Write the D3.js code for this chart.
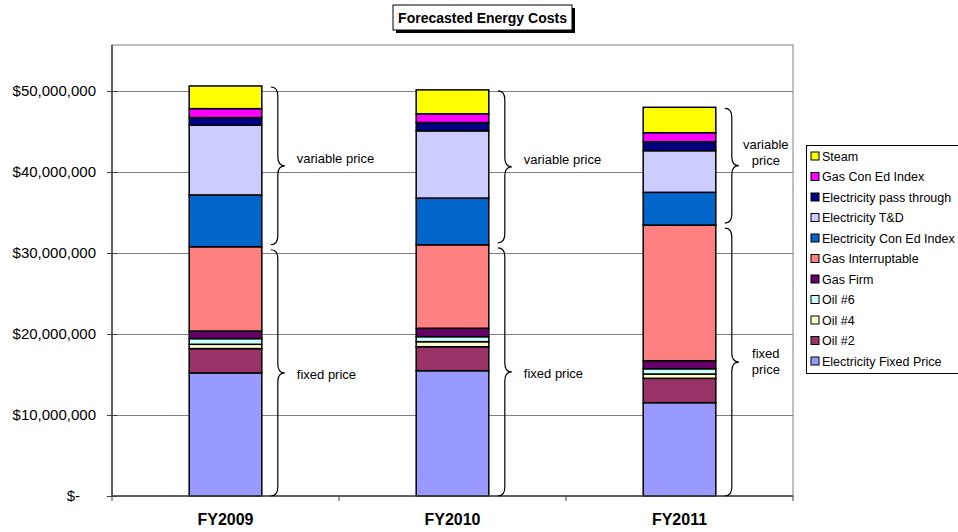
<!DOCTYPE html>
<html>
<head>
<meta charset="utf-8">
<script src="https://cdn.jsdelivr.net/npm/d3@7"></script>
<style>
  html, body { margin: 0; padding: 0; background: #fff; }
  svg { display: block; font-family: "Liberation Sans", Arial, sans-serif; }
</style>
</head>
<body>
<svg id="chart" width="958" height="532"></svg>
<script>
// ---------- data ----------
const categories = ["FY2009", "FY2010", "FY2011"];
// series listed bottom-to-top of each stack
const seriesNames = [
  "Electricity Fixed Price", "Oil #2", "Oil #4", "Oil #6", "Gas Firm",
  "Gas Interruptable", "Electricity Con Ed Index", "Electricity T&D",
  "Electricity pass through", "Gas Con Ed Index", "Steam"
];
const electricityFixedPrice = [15200000, 15470000, 11520000];
const oil2                  = [3000000, 2960000, 3010000];
const oil4                  = [530000, 620000, 530000];
const oil6                  = [700000, 620000, 650000];
const gasFirm               = [940000, 1040000, 990000];
const gasInterruptable      = [10400000, 10300000, 16750000];
const electricityConEdIndex = [6400000, 5770000, 4040000];
const electricityTD         = [8600000, 8300000, 5140000];
const electricityPassThrough= [950000, 1030000, 1110000];
const gasConEdIndex         = [1100000, 1070000, 1110000];
const steam                 = [2800000, 2960000, 3140000];
const seriesValues = [electricityFixedPrice, oil2, oil4, oil6, gasFirm, gasInterruptable,
  electricityConEdIndex, electricityTD, electricityPassThrough, gasConEdIndex, steam];
const seriesColors = ["#9999FF", "#993366", "#FFFFCC", "#CCFFFF", "#660066", "#FF8080",
  "#0066CC", "#CCCCFF", "#000080", "#FF00FF", "#FFFF00"];
const yTicks = [0, 10000000, 20000000, 30000000, 40000000, 50000000];
const fixedCount = 6; // first six series are "fixed price"
const variableLabels = [["variable price"], ["variable price"], ["variable", "price"]];
const fixedLabels = [["fixed price"], ["fixed price"], ["fixed", "price"]];
const titleText = "Forecasted Energy Costs";

// ---------- layout ----------
const plot = { left: 112, right: 793, top: 45, bottom: 496 };
const svg = d3.select("#chart");

const x = d3.scaleBand().domain(categories).range([plot.left, plot.right]).paddingInner(0.68).paddingOuter(0.34);
const y = d3.scaleLinear().domain([0, 50000000]).range([plot.bottom, 91]);

const rows = categories.map((c, i) => {
  const r = { cat: c };
  seriesNames.forEach((s, k) => r[s] = seriesValues[k][i]);
  return r;
});
const stacked = d3.stack().keys(seriesNames)(rows);

// plot frame
svg.append("rect").attr("x", plot.left).attr("y", plot.top)
  .attr("width", plot.right - plot.left).attr("height", plot.bottom - plot.top)
  .attr("fill", "#fff").attr("stroke", "#808080").attr("stroke-width", 1);

// gridlines
svg.append("g").selectAll("line").data(yTicks.filter(d => d > 0)).join("line")
  .attr("x1", plot.left).attr("x2", plot.right)
  .attr("y1", d => Math.round(y(d)) + 0.5).attr("y2", d => Math.round(y(d)) + 0.5)
  .attr("stroke", "#808080").attr("stroke-width", 1);

// bars
svg.append("g").selectAll("g").data(stacked).join("g")
  .attr("fill", (d, i) => seriesColors[i])
  .selectAll("rect").data(d => d).join("rect")
  .attr("x", d => x(d.data.cat))
  .attr("width", x.bandwidth())
  .attr("y", d => y(d[1]))
  .attr("height", d => y(d[0]) - y(d[1]))
  .attr("stroke", "#000").attr("stroke-width", 1.5);

// y axis
const yAxis = svg.append("g").attr("transform", `translate(${plot.left},0)`)
  .call(d3.axisLeft(y).tickValues(yTicks).tickSize(5).tickPadding(11)
    .tickFormat(d => d === 0 ? "$-" : d3.format("$,")(d)));
yAxis.select(".domain").attr("stroke", "#404040").attr("stroke-width", 1.5)
  .attr("d", `M0,${plot.top}V${plot.bottom}`);
yAxis.selectAll(".tick line").attr("stroke", "#404040").attr("x1", 5).attr("x2", -5);
yAxis.selectAll(".tick text").attr("font-size", 15).attr("fill", "#000")
  .attr("font-family", "Liberation Sans, Arial, sans-serif")
  .attr("dx", d => d === 0 ? -16 : 0);

// x axis
const xAxis = svg.append("g").attr("transform", `translate(0,${plot.bottom})`);
xAxis.append("line").attr("x1", plot.left).attr("x2", plot.right)
  .attr("stroke", "#404040").attr("stroke-width", 1.5);
const boundaries = [plot.left].concat(categories.map(c => x(c) + x.bandwidth() / 2 + x.step() / 2));
xAxis.selectAll("line.tk").data(boundaries).join("line").attr("class", "tk")
  .attr("x1", d => d).attr("x2", d => d).attr("y1", 0).attr("y2", 5)
  .attr("stroke", "#404040").attr("stroke-width", 1);
xAxis.selectAll("text").data(categories).join("text")
  .attr("x", d => x(d) + x.bandwidth() / 2).attr("y", 29)
  .attr("text-anchor", "middle").attr("font-weight", "bold").attr("font-size", 16)
  .text(d => d);

// braces
function bracePath(x0, y0, y1, w) {
  const m = (y0 + y1) / 2, r = Math.min(9, (y1 - y0) / 6), h = w / 2;
  return `M${x0},${y0} Q${x0 + h},${y0} ${x0 + h},${y0 + r} L${x0 + h},${m - r} ` +
    `Q${x0 + h},${m} ${x0 + w},${m} Q${x0 + h},${m} ${x0 + h},${m + r} ` +
    `L${x0 + h},${y1 - r} Q${x0 + h},${y1} ${x0},${y1}`;
}
const braceG = svg.append("g");
categories.forEach((c, i) => {
  const bx = x(c) + x.bandwidth() + 9;
  const bw = 14;
  const boundary = stacked[fixedCount - 1][i][1];
  const top = stacked[seriesNames.length - 1][i][1];
  const groups = [
    { y0: y(top) + 1, y1: y(boundary) - 2, lines: variableLabels[i], lift: variableLabels[i].length > 1 ? -13 : -7 },
    { y0: y(boundary) + 3, y1: y(0), lines: fixedLabels[i], lift: fixedLabels[i].length > 1 ? -1 : 2 }
  ];
  groups.forEach(g => {
    braceG.append("path").attr("d", bracePath(bx, g.y0, g.y1, bw))
      .attr("fill", "none").attr("stroke", "#000").attr("stroke-width", 1.2);
    const mid = (g.y0 + g.y1) / 2 + g.lift;
    const multi = g.lines.length > 1;
    const t = braceG.append("text").attr("font-size", 13)
      .attr("text-anchor", multi ? "middle" : "start");
    g.lines.forEach((ln, j) => {
      t.append("tspan")
        .attr("x", multi ? bx + bw + 27 : bx + bw + 12)
        .attr("y", mid + 4.5 + (j - (g.lines.length - 1) / 2) * 16)
        .text(ln);
    });
  });
});

// title
const tg = svg.append("g");
tg.append("rect").attr("x", 396).attr("y", 8).attr("width", 179).attr("height", 25).attr("fill", "#000");
tg.append("rect").attr("x", 393).attr("y", 5).attr("width", 179).attr("height", 25)
  .attr("fill", "#fff").attr("stroke", "#000").attr("stroke-width", 1);
tg.append("text").attr("x", 482.5).attr("y", 22.5).attr("text-anchor", "middle")
  .attr("font-weight", "bold").attr("font-size", 14).text(titleText);

// legend
const lg = svg.append("g").attr("transform", "translate(806,145)");
lg.append("rect").attr("x", 0.5).attr("y", 0.5).attr("width", 170).attr("height", 228)
  .attr("fill", "#fff").attr("stroke", "#000").attr("stroke-width", 1);
const legendOrder = seriesNames.map((s, i) => i).reverse();
const li = lg.selectAll("g.item").data(legendOrder).join("g").attr("class", "item")
  .attr("transform", (d, j) => `translate(0,${11 + j * 20.5})`);
li.append("rect").attr("x", 5).attr("y", -4).attr("width", 8).attr("height", 8)
  .attr("fill", d => seriesColors[d]).attr("stroke", "#000").attr("stroke-width", 1);
li.append("text").attr("x", 16).attr("y", 4.5).attr("font-size", 12.5).text(d => seriesNames[d]);
</script>
</body>
</html>
